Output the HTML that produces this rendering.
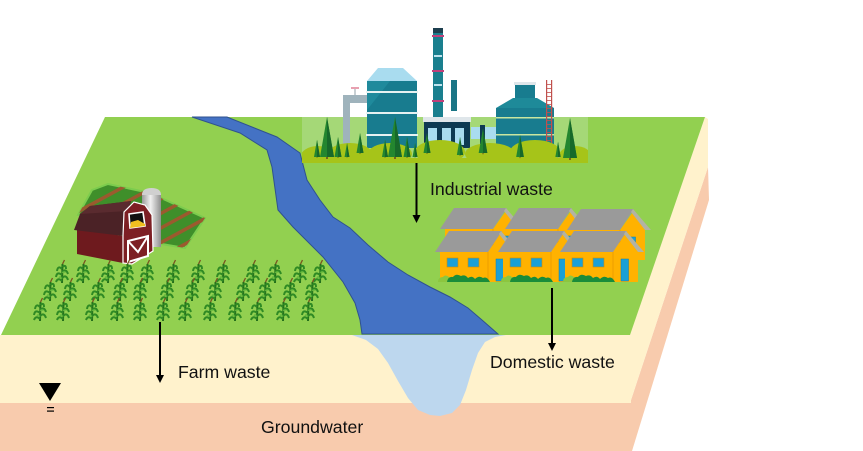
<!DOCTYPE html>
<html><head><meta charset="utf-8"><style>
html,body{margin:0;padding:0;background:#fff;}
svg{display:block;}
text{font-family:"Liberation Sans",sans-serif;font-size:17.7px;fill:#111;}
</style></head><body>
<svg width="863" height="451" viewBox="0 0 863 451" xmlns="http://www.w3.org/2000/svg">
<defs>
 <g id="corn">
  <path d="M0,0 L0.5,-19" stroke="#256f1c" stroke-width="2" fill="none"/>
  <path d="M0,-2 Q-4,-6 -6,-1 M0,-5 Q4,-9 6,-3 M0,-8 Q-5,-12 -6,-6 M0,-11 Q4,-15 6,-9 M0,-14 Q-4,-18 -5,-12 M0.5,-16 Q4,-19 4,-14" stroke="#2f8a24" stroke-width="2" fill="none"/>
  <path d="M0,-4 Q-2,-8 -3,-5 M0,-10 Q3,-13 3,-10" stroke="#5cb43a" stroke-width="1" fill="none"/>
  <path d="M0.5,-19 L2.5,-23" stroke="#7a5520" stroke-width="1.3"/>
 </g>
 <g id="tree">
  <polygon points="0,-40 -7,0 7,0" fill="#23862f"/>
  <polygon points="0,-40 0,0 7,0" fill="#17692a"/>
  <rect x="-0.8" y="0" width="1.6" height="2" fill="#6b4a22"/>
 </g>
 <g id="house">
  <rect x="5" y="21" width="73" height="30" fill="#FFB200"/>
  <line x1="53" y1="21" x2="53" y2="51" stroke="#e89a00" stroke-width="0.8"/>
  <polygon points="53,21 66,3 78,21" fill="#FFB200"/>
  <polygon points="0,21 14,0 67,0 53,21" fill="#9a9a9a"/>
  <polygon points="66,0 84,21 78,21 64,3" fill="#b3b3a3"/>
  <rect x="12" y="27" width="11" height="9" fill="#1aa0d6" stroke="#d08a00" stroke-width="0.6"/>
  <rect x="33" y="27" width="11" height="9" fill="#1aa0d6" stroke="#d08a00" stroke-width="0.6"/>
  <rect x="61" y="28" width="7.5" height="22" fill="#1aa0d6" stroke="#0f7fae" stroke-width="0.5"/>
  <path d="M3,51 Q3,46 8,46 Q10,43 14,46 L20,51 Z" fill="#8cc63f"/>
  <path d="M12,51 Q13,45 18,46 Q21,42 26,45 Q30,43 33,47 Q37,44 40,48 Q44,44 48,47 Q52,45 55,51 Z" fill="#1a8c3a"/>
 </g>
 <clipPath id="fieldclip"><polygon points="78,215 92,190 108,184 150,193 205,218 185,248 150,242"/></clipPath>
 <clipPath id="facclip"><rect x="302" y="117" width="286" height="46"/></clipPath>
 <linearGradient id="silo" x1="0" x2="1" y1="0" y2="0">
  <stop offset="0" stop-color="#9a9a9a"/><stop offset="0.45" stop-color="#f0f0f0"/><stop offset="1" stop-color="#8f8f8f"/>
 </linearGradient>
</defs>

<!-- block layers -->
<rect x="0" y="403" width="632" height="48" fill="#F8CBAD"/>
<polygon points="630,403 708,167 709,200 632,451 630,451" fill="#F8CBAD"/>
<rect x="0" y="335" width="631" height="68" fill="#FFF2CC"/>
<polygon points="629,335 705,117 708,119 708,167 630,403" fill="#FFF2CC"/>
<polygon points="1,335 105,117 705,117 630,335" fill="#92D050"/>

<!-- plume -->
<path d="M352,335 L366,340 L378,349 L388,363 L398,381 L408,398 L418,410 L430,415 L440,416 L452,413 L460,405 L466,390 L472,370 L478,353 L485,342 L495,337 L506,335 Z" fill="#BDD7EE"/>

<!-- river -->
<path d="M192,117 L240,133 L267,150 L272,167 L278,210 L293,227 L323,257 L343,282 L355,303 L360,320 L362,334 L498,334 L482,320 L468,308 L450,297 L430,287 L408,275 L388,262 L368,245 L350,228 L333,217 L320,200 L307,180 L300,153 L277,137 L227,117 Z" fill="#4472C4" stroke="#2F528F" stroke-width="1"/>

<!-- factory -->
<rect x="302" y="117" width="286" height="46" fill="#a5d877"/>
<rect x="343" y="99" width="7" height="50" fill="#9fb3bc"/>
<rect x="343" y="95" width="25" height="8" fill="#9fb3bc"/>
<rect x="354" y="88" width="2" height="7" fill="#c8d0d4"/>
<rect x="351" y="87" width="8" height="2" fill="#e8a0b0"/>
<polygon points="378,68 403,68 417,81 367,81" fill="#a9dcef"/>
<rect x="367" y="81" width="50" height="67" fill="#187c8f"/>
<polygon points="367,81 390,81 367,110" fill="#1f8a9c"/>
<rect x="366" y="91" width="52" height="2" fill="#e6f2f2"/>
<rect x="366" y="112" width="52" height="2" fill="#e6f2f2"/>
<rect x="366" y="134" width="52" height="2" fill="#e6f2f2"/>
<rect x="433" y="28" width="10" height="90" fill="#1a7f8e"/>
<rect x="433" y="28" width="10" height="5" fill="#1d3f4f"/>
<rect x="432" y="35" width="12" height="2" fill="#c0407a"/>
<rect x="432" y="70" width="12" height="2" fill="#c0407a"/>
<rect x="432" y="100" width="12" height="2" fill="#c0407a"/>
<rect x="434" y="55" width="8" height="2" fill="#bfe3ee"/>
<rect x="434" y="84" width="8" height="2" fill="#bfe3ee"/>
<rect x="451" y="80" width="6" height="31" fill="#1a7585"/>
<rect x="423" y="117" width="48" height="5" fill="#dfe6ea"/>
<rect x="424" y="122" width="46" height="26" fill="#0e3a52"/>
<rect x="428" y="128" width="9" height="17" fill="#a9dcef"/>
<rect x="442" y="128" width="9" height="17" fill="#a9dcef"/>
<rect x="455" y="128" width="9" height="17" fill="#a9dcef"/>
<rect x="471" y="127" width="26" height="12" fill="#a9dcef"/>
<rect x="480" y="125" width="5" height="22" fill="#0e3a52"/>
<rect x="514" y="82" width="22" height="3" fill="#dfe6ea"/>
<rect x="515" y="85" width="20" height="13" fill="#187c8f"/>
<polygon points="513,98 537,98 554,108 496,108" fill="#1e8a99"/>
<rect x="496" y="108" width="58" height="42" fill="#187c8f"/>
<rect x="496" y="117" width="58" height="1.5" fill="#c8e6a0"/>
<rect x="496" y="134" width="58" height="1.5" fill="#c8e6a0"/>
<g fill="#c0504d">
 <rect x="546" y="80" width="1.2" height="65"/><rect x="551" y="80" width="1.2" height="65"/>
 <rect x="546" y="84" width="6" height="0.8"/><rect x="546" y="88" width="6" height="0.8"/><rect x="546" y="92" width="6" height="0.8"/><rect x="546" y="96" width="6" height="0.8"/><rect x="546" y="100" width="6" height="0.8"/><rect x="546" y="104" width="6" height="0.8"/><rect x="546" y="108" width="6" height="0.8"/><rect x="546" y="112" width="6" height="0.8"/><rect x="546" y="116" width="6" height="0.8"/><rect x="546" y="120" width="6" height="0.8"/><rect x="546" y="124" width="6" height="0.8"/><rect x="546" y="128" width="6" height="0.8"/><rect x="546" y="132" width="6" height="0.8"/><rect x="546" y="136" width="6" height="0.8"/><rect x="546" y="140" width="6" height="0.8"/>
</g>
<g clip-path="url(#facclip)" fill="#a6c419">
 <ellipse cx="318" cy="158" rx="18" ry="12"/><ellipse cx="350" cy="154" rx="22" ry="11"/>
 <ellipse cx="390" cy="154" rx="22" ry="11"/><ellipse cx="440" cy="152" rx="25" ry="12"/>
 <ellipse cx="490" cy="154" rx="25" ry="11"/><ellipse cx="535" cy="152" rx="25" ry="12"/>
 <ellipse cx="575" cy="156" rx="16" ry="10"/>
 <rect x="302" y="158" width="286" height="5"/>
</g>
<use href="#tree" transform="translate(317,157) scale(0.43)"/>
<use href="#tree" transform="translate(327,157) scale(1)"/>
<use href="#tree" transform="translate(338,157) scale(0.5)"/>
<use href="#tree" transform="translate(347,157) scale(0.35)"/>
<use href="#tree" transform="translate(360,153) scale(0.5)"/>
<use href="#tree" transform="translate(385,157) scale(0.43)"/>
<use href="#tree" transform="translate(395,157) scale(1)"/>
<use href="#tree" transform="translate(407,157) scale(0.5)"/>
<use href="#tree" transform="translate(415,157) scale(0.35)"/>
<use href="#tree" transform="translate(427,153) scale(0.5)"/>
<use href="#tree" transform="translate(460,155) scale(0.45)"/>
<use href="#tree" transform="translate(483,153) scale(0.62)"/>
<use href="#tree" transform="translate(520,157) scale(0.55)"/>
<use href="#tree" transform="translate(558,157) scale(0.38)"/>
<use href="#tree" transform="translate(570,158) scale(1)"/>

<!-- farm field -->
<polygon points="78,215 92,190 108,184 150,193 205,218 185,248 150,242" fill="#3f8f2a" stroke="#7ccc4e" stroke-width="2"/>
<g clip-path="url(#fieldclip)" stroke="#9b5a2e" stroke-width="3.5">
 <path d="M60,205 L130,167 M70,216 L140,178 M82,226 L152,188 M96,234 L166,196 M110,241 L180,203 M124,248 L194,210 M138,255 L208,217 M152,262 L222,224"/>
</g>
<!-- silo -->
<rect x="142" y="193" width="19" height="54" fill="url(#silo)"/>
<path d="M142,195 Q142,188 151.5,188 Q161,188 161,195 Z" fill="#d0d0d0"/>
<!-- barn -->
<polygon points="77,228 123,236 123,263 77,254" fill="#6e1a1e"/>
<polygon points="74,230 80,214 90,206 131,201 124,236" fill="#4b2226"/>
<polygon points="80,214 90,206 131,201 127,211" fill="#5a2b2f"/>
<polygon points="123,236 124,212 134,202 145,205 152,215 153,251 132,264 123,263" fill="#7d1f24" stroke="#fff" stroke-width="1.2"/>
<polygon points="129,214 143,212 145,226 130,228" fill="#111" stroke="#fff" stroke-width="1.6"/>
<polygon points="130,228 131,222 138,220 145,224 145,226" fill="#f0c020"/>
<polygon points="128,241 148,236 148,256 128,262" fill="#7d1f24" stroke="#fff" stroke-width="2"/>
<path d="M128,241 L138,252 L148,236 M128,262 L128,241" stroke="#fff" stroke-width="2" fill="none"/>

<!-- corn -->
<g>
<use href="#corn" x="62" y="283"/><use href="#corn" x="83" y="283"/><use href="#corn" x="108" y="283"/><use href="#corn" x="127" y="283"/><use href="#corn" x="147" y="283"/><use href="#corn" x="173" y="283"/><use href="#corn" x="198" y="283"/><use href="#corn" x="223" y="283"/><use href="#corn" x="253" y="283"/><use href="#corn" x="275" y="283"/><use href="#corn" x="300" y="283"/><use href="#corn" x="320" y="283"/>
<use href="#corn" x="50" y="301"/><use href="#corn" x="70" y="301"/><use href="#corn" x="98" y="301"/><use href="#corn" x="120" y="301"/><use href="#corn" x="140" y="301"/><use href="#corn" x="167" y="301"/><use href="#corn" x="192" y="301"/><use href="#corn" x="215" y="301"/><use href="#corn" x="243" y="301"/><use href="#corn" x="265" y="301"/><use href="#corn" x="290" y="301"/><use href="#corn" x="312" y="301"/>
<use href="#corn" x="40" y="321"/><use href="#corn" x="63" y="321"/><use href="#corn" x="92" y="321"/><use href="#corn" x="117" y="321"/><use href="#corn" x="140" y="321"/><use href="#corn" x="163" y="321"/><use href="#corn" x="185" y="321"/><use href="#corn" x="210" y="321"/><use href="#corn" x="235" y="321"/><use href="#corn" x="257" y="321"/><use href="#corn" x="283" y="321"/><use href="#corn" x="308" y="321"/>
</g>

<!-- houses -->
<use href="#house" transform="translate(440,208)"/>
<use href="#house" transform="translate(505,208)"/>
<use href="#house" transform="translate(567,209)"/>
<use href="#house" transform="translate(435,231)"/>
<use href="#house" transform="translate(498,231)"/>
<use href="#house" transform="translate(560,231)"/>

<!-- arrows -->
<g stroke="#000" stroke-width="2">
 <line x1="416.5" y1="163" x2="416.5" y2="216"/>
 <line x1="160" y1="322" x2="160" y2="376"/>
 <line x1="552" y1="288" x2="552" y2="344"/>
</g>
<g fill="#000">
 <polygon points="412.5,215 420.5,215 416.5,223"/>
 <polygon points="156,375 164,375 160,383"/>
 <polygon points="548,343 556,343 552,351"/>
 <polygon points="39,383 61,383 50,401"/>
 <rect x="47" y="407" width="7" height="1.2"/>
 <rect x="47" y="410.5" width="7" height="1.2"/>
</g>

<text x="430" y="195">Industrial waste</text>
<text x="178" y="378">Farm waste</text>
<text x="490" y="368">Domestic waste</text>
<text x="261" y="433">Groundwater</text>
</svg>
</body></html>
